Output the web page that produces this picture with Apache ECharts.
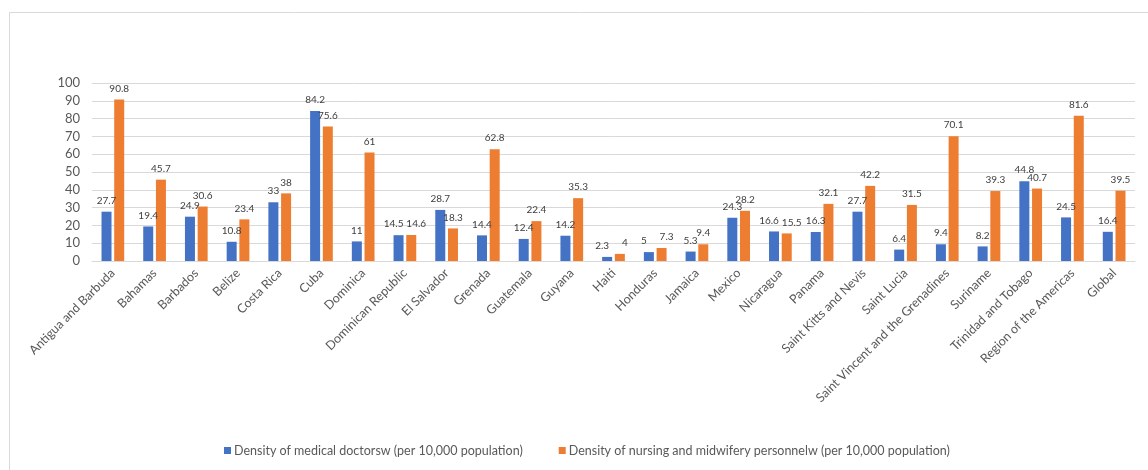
<!DOCTYPE html>
<html>
<head>
<meta charset="utf-8">
<script src="https://cdn.jsdelivr.net/npm/echarts@6/dist/echarts.min.js"></script>
<style>
  html, body { margin: 0; padding: 0; background: #fff; }
  #chart { width: 1148px; height: 470px; }
</style>
</head>
<body>
<div id="chart"></div>
<script>
// Health workforce density by country / region (per 10,000 population)
const categories = [
  'Antigua and Barbuda', 'Bahamas', 'Barbados', 'Belize', 'Costa Rica', 'Cuba',
  'Dominica', 'Dominican Republic', 'El Salvador', 'Grenada', 'Guatemala', 'Guyana',
  'Haiti', 'Honduras', 'Jamaica', 'Mexico', 'Nicaragua', 'Panama',
  'Saint Kitts and Nevis', 'Saint Lucia', 'Saint Vincent and the Grenadines',
  'Suriname', 'Trinidad and Tobago', 'Region of the Americas', 'Global'
];
const doctors = [
  27.7, 19.4, 24.9, 10.8, 33, 84.2,
  11, 14.5, 28.7, 14.4, 12.4, 14.2,
  2.3, 5, 5.3, 24.3, 16.6, 16.3,
  27.7, 6.4, 9.4,
  8.2, 44.8, 24.5, 16.4
];
const nurses = [
  90.8, 45.7, 30.6, 23.4, 38, 75.6,
  61, 14.6, 18.3, 62.8, 22.4, 35.3,
  4, 7.3, 9.4, 28.2, 15.5, 32.1,
  42.2, 31.5, 70.1,
  39.3, 40.7, 81.6, 39.5
];
const seriesNames = [
  'Density of medical doctorsw (per 10,000 population)',
  'Density of nursing and midwifery personnelw (per 10,000 population)'
];
const yTicks = { min: 0, max: 100, interval: 10 };

const FONT = 'Lato, "Open Sans", sans-serif';
const TEXT = '#595959';
const GRID = '#d9d9d9';

// Pairs whose value labels would collide get nudged apart sideways.
const labelNudge = 5;
function labelledData(values, others, dir) {
  return values.map((v, i) => {
    const close = Math.abs(v - others[i]) < 3;
    return close ? { value: v, label: { offset: [dir * labelNudge, 0] } } : v;
  });
}

const labelStyle = {
  show: true,
  position: 'top',
  distance: 6,
  color: '#404040',
  fontSize: 10,
  fontFamily: FONT
};

const chart = echarts.init(document.getElementById('chart'), null, { renderer: 'canvas' });
chart.setOption({
  backgroundColor: '#fff',
  animation: false,
  graphic: [{
    type: 'rect',
    left: 7, top: 10,
    shape: { width: 1160, height: 480 },
    style: { fill: 'none', stroke: GRID, lineWidth: 1 },
    silent: true,
    z: -1
  }],
  grid: { left: 92, right: 13, top: 83, bottom: 209, containLabel: false },
  legend: {
    bottom: 8,
    left: 219,
    itemWidth: 7,
    itemHeight: 7,
    itemGap: 36,
    icon: 'rect',
    textStyle: { color: TEXT, fontSize: 12.5, fontFamily: FONT, padding: [0, 0, 0, -2] },
    data: seriesNames
  },
  xAxis: {
    type: 'category',
    data: categories,
    axisLine: { lineStyle: { color: GRID } },
    axisTick: { show: false },
    axisLabel: {
      interval: 0,
      rotate: 45,
      margin: 10,
      color: TEXT,
      fontSize: 12.5,
      fontFamily: FONT
    }
  },
  yAxis: {
    type: 'value',
    min: yTicks.min,
    max: yTicks.max,
    interval: yTicks.interval,
    axisLine: { show: false },
    axisTick: { show: false },
    splitLine: { lineStyle: { color: GRID, width: 1 } },
    axisLabel: { color: TEXT, fontSize: 13, fontFamily: FONT, margin: 12 }
  },
  series: [
    {
      name: seriesNames[0],
      type: 'bar',
      data: labelledData(doctors, nurses, -1),
      barWidth: 10,
      barGap: '27%',
      itemStyle: { color: '#4472C4' },
      label: labelStyle
    },
    {
      name: seriesNames[1],
      type: 'bar',
      data: labelledData(nurses, doctors, 1),
      barWidth: 10,
      itemStyle: { color: '#ED7D31' },
      label: labelStyle
    }
  ]
});
</script>
</body>
</html>
